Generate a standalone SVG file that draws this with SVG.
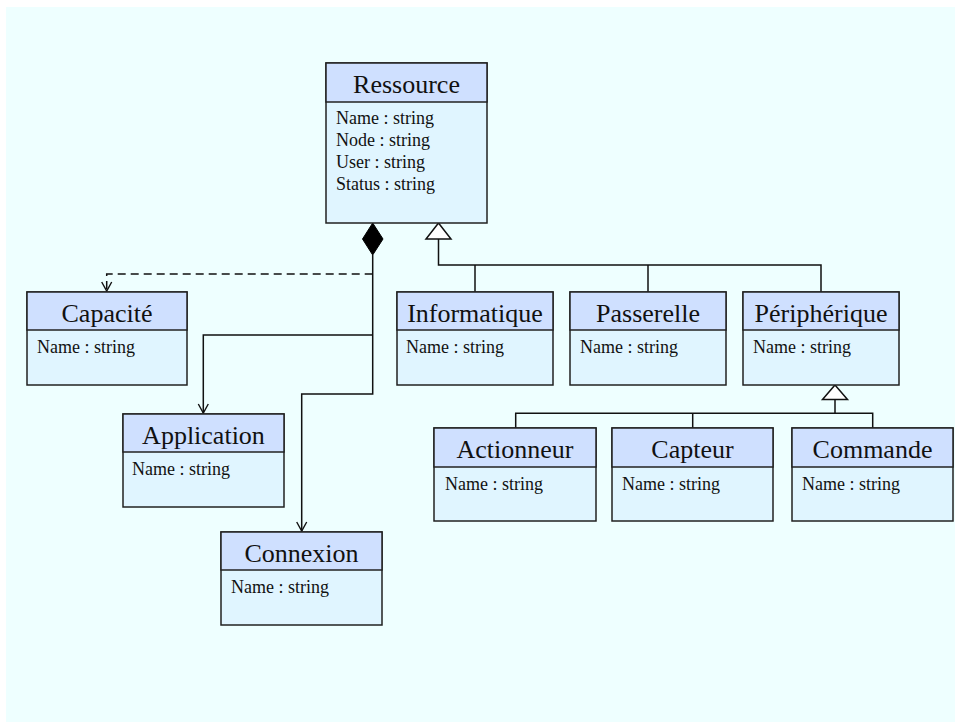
<svg xmlns="http://www.w3.org/2000/svg" width="955" height="722" viewBox="0 0 955 722">
<defs>
<style>
.hd{fill:#cfe0ff;stroke:#222;stroke-width:1.5}
.bd{fill:#e0f5ff;stroke:#222;stroke-width:1.5}
.t{font-family:"Liberation Serif","Times New Roman",serif;font-size:26px;fill:#111;text-anchor:middle}
.a{font-family:"Liberation Serif","Times New Roman",serif;font-size:18px;fill:#111}
.c{fill:none;stroke:#111;stroke-width:1.5}
.d{fill:none;stroke:#111;stroke-width:1.5;stroke-dasharray:8,5}
</style>
<marker id="open" viewBox="0 0 12 12" refX="10" refY="6" markerWidth="12" markerHeight="12" markerUnits="userSpaceOnUse" orient="auto">
<path d="M1,1 L10,6 L1,11" fill="none" stroke="#111" stroke-width="1.4"/>
</marker>
</defs>
<rect x="6" y="7" width="949" height="715" fill="#eeffff"/>

<g id="connectors">
<polygon points="372.7,223 383,239 372.7,255 362.5,239" fill="#000" stroke="#000" stroke-width="1"/>
<polyline class="c" points="372.7,255 372.7,394 301.7,394 301.7,531" marker-end="url(#open)"/>
<polyline class="d" points="372.7,274 106.7,274 106.7,291" marker-end="url(#open)"/>
<polyline class="c" points="372.7,335 203.3,335 203.3,413" marker-end="url(#open)"/>
<polygon points="438.5,223 451,239 426,239" fill="#fff" stroke="#111" stroke-width="1.5"/>
<polyline class="c" points="438.5,239 438.5,265 821,265 821,292"/>
<line class="c" x1="475" y1="265" x2="475" y2="292"/>
<line class="c" x1="648" y1="265" x2="648" y2="292"/>
<polygon points="835,385 847.5,399.5 822.5,399.5" fill="#fff" stroke="#111" stroke-width="1.5"/>
<line class="c" x1="835" y1="399.5" x2="835" y2="413.3"/>
<polyline class="c" points="515.7,428.3 515.7,413.3 872.7,413.3 872.7,428.3"/>
<line class="c" x1="692.7" y1="413.3" x2="692.7" y2="428.3"/>
</g>

<g id="Ressource">
<rect class="bd" x="326" y="63" width="161" height="160"/>
<rect class="hd" x="326" y="63" width="161" height="39"/>
<text class="t" x="406.5" y="93">Ressource</text>
<text class="a" x="336" y="124">Name : string</text>
<text class="a" x="336" y="146">Node : string</text>
<text class="a" x="336" y="168">User : string</text>
<text class="a" x="336" y="190">Status : string</text>
</g>

<g id="Capacite">
<rect class="bd" x="27" y="292" width="160" height="93"/>
<rect class="hd" x="27" y="292" width="160" height="38"/>
<text class="t" x="107" y="322">Capacité</text>
<text class="a" x="37" y="353">Name : string</text>
</g>

<g id="Informatique">
<rect class="bd" x="397" y="292" width="156" height="93"/>
<rect class="hd" x="397" y="292" width="156" height="38"/>
<text class="t" x="475" y="322">Informatique</text>
<text class="a" x="406" y="353">Name : string</text>
</g>

<g id="Passerelle">
<rect class="bd" x="570" y="292" width="156" height="93"/>
<rect class="hd" x="570" y="292" width="156" height="38"/>
<text class="t" x="648" y="322">Passerelle</text>
<text class="a" x="580" y="353">Name : string</text>
</g>

<g id="Peripherique">
<rect class="bd" x="743" y="292" width="156" height="93"/>
<rect class="hd" x="743" y="292" width="156" height="38"/>
<text class="t" x="821" y="322">Périphérique</text>
<text class="a" x="753" y="353">Name : string</text>
</g>

<g id="Application">
<rect class="bd" x="123" y="414" width="161" height="93"/>
<rect class="hd" x="123" y="414" width="161" height="38"/>
<text class="t" x="203.5" y="444">Application</text>
<text class="a" x="132" y="475">Name : string</text>
</g>

<g id="Connexion">
<rect class="bd" x="221" y="532" width="161" height="93"/>
<rect class="hd" x="221" y="532" width="161" height="38"/>
<text class="t" x="301.5" y="562">Connexion</text>
<text class="a" x="231" y="593">Name : string</text>
</g>

<g id="Actionneur">
<rect class="bd" x="434" y="428" width="162" height="93"/>
<rect class="hd" x="434" y="428" width="162" height="39"/>
<text class="t" x="515" y="458">Actionneur</text>
<text class="a" x="445" y="490">Name : string</text>
</g>

<g id="Capteur">
<rect class="bd" x="612" y="428" width="161" height="93"/>
<rect class="hd" x="612" y="428" width="161" height="39"/>
<text class="t" x="692.5" y="458">Capteur</text>
<text class="a" x="622" y="490">Name : string</text>
</g>

<g id="Commande">
<rect class="bd" x="792" y="428" width="161" height="93"/>
<rect class="hd" x="792" y="428" width="161" height="39"/>
<text class="t" x="872.5" y="458">Commande</text>
<text class="a" x="802" y="490">Name : string</text>
</g>
</svg>
